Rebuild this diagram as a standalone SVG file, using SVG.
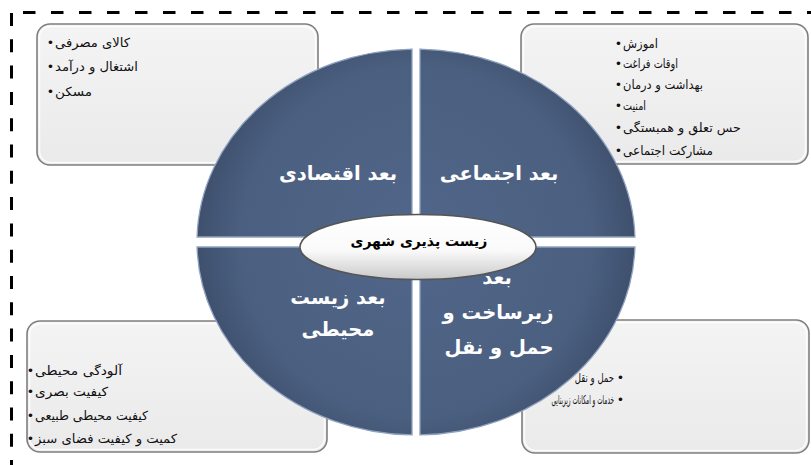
<svg xmlns="http://www.w3.org/2000/svg" width="811" height="465" viewBox="0 0 811 465">
<defs>
<linearGradient id="boxFill" x1="0" y1="0" x2="0" y2="1">
<stop offset="0" stop-color="#f5f4f5"/>
<stop offset="1" stop-color="#ebeaeb"/>
</linearGradient>
<radialGradient id="quadFill" cx="416" cy="242" r="219" gradientUnits="userSpaceOnUse">
<stop offset="0" stop-color="#52668a"/>
<stop offset="0.8" stop-color="#4b5f80"/>
<stop offset="1" stop-color="#3e506d"/>
</radialGradient>
<linearGradient id="ellFill" x1="0" y1="0" x2="0" y2="1">
<stop offset="0" stop-color="#ffffff"/>
<stop offset="0.55" stop-color="#fafafa"/>
<stop offset="1" stop-color="#c9c9c9"/>
</linearGradient>
</defs>
<style>
.frame{fill:none;stroke:#000;stroke-width:3}
.box{fill:url(#boxFill);stroke:#7f7f7f;stroke-width:1.6}
.boxin{fill:none;stroke:#ffffff;stroke-width:1.5;opacity:0.8}
.quad{fill:url(#quadFill);stroke:#8ea2bf;stroke-width:1.3}
.lbl{font-family:"DejaVu Sans",sans-serif;font-weight:bold;font-size:19.5px;fill:#ffffff;text-anchor:middle}
.item{font-family:"DejaVu Sans",sans-serif;font-size:12.5px;fill:#111111}
.bul{font-family:"DejaVu Sans",sans-serif;font-size:12.5px;fill:#111111;text-anchor:middle}
.center{font-family:"DejaVu Sans",sans-serif;font-weight:bold;font-size:14px;fill:#000000;text-anchor:middle}
</style>
<rect width="811" height="465" fill="#ffffff"/>
<g id="frame">
<line class="frame" x1="23" y1="12.5" x2="811" y2="12.5" stroke-dasharray="12.5 15.5"/>
<line class="frame" x1="11.5" y1="13" x2="11.5" y2="465" stroke-dasharray="13 13.3"/>
</g>
<g id="box-economic">
<rect class="box" x="37" y="24" width="281" height="141" rx="13"/>
<rect class="boxin" x="39.5" y="26.5" width="276" height="136" rx="11"/>
<text class="bul" x="50.5" y="47">•</text>
<text class="bul" x="50.5" y="71">•</text>
<text class="bul" x="50.5" y="96">•</text>
<text class="item" x="55" y="47" textLength="75" lengthAdjust="spacingAndGlyphs">کالای مصرفی</text>
<text class="item" x="55" y="71" textLength="83" lengthAdjust="spacingAndGlyphs">اشتغال و درآمد</text>
<text class="item" x="55" y="96" textLength="37" lengthAdjust="spacingAndGlyphs">مسکن</text>
</g>
<g id="box-social">
<rect class="box" x="521" y="24" width="287" height="140" rx="13"/>
<rect class="boxin" x="523.5" y="26.5" width="282" height="135" rx="11"/>
<text class="bul" x="618.5" y="48">•</text>
<text class="bul" x="618.5" y="68">•</text>
<text class="bul" x="618.5" y="89">•</text>
<text class="bul" x="618.5" y="110">•</text>
<text class="bul" x="618.5" y="132">•</text>
<text class="bul" x="618.5" y="155">•</text>
<text class="item" x="623" y="48" textLength="35" lengthAdjust="spacingAndGlyphs">اموزش</text>
<text class="item" x="623" y="68" textLength="55" lengthAdjust="spacingAndGlyphs">اوقات فراغت</text>
<text class="item" x="623" y="89" textLength="80" lengthAdjust="spacingAndGlyphs">بهداشت و درمان</text>
<text class="item" x="623" y="110" textLength="23" lengthAdjust="spacingAndGlyphs">امنیت</text>
<text class="item" x="623" y="132" textLength="118" lengthAdjust="spacingAndGlyphs">حس تعلق و همبستگی</text>
<text class="item" x="623" y="155" textLength="90" lengthAdjust="spacingAndGlyphs">مشارکت اجتماعی</text>
</g>
<g id="box-environment">
<rect class="box" x="27" y="321" width="300" height="131" rx="13"/>
<rect class="boxin" x="29.5" y="323.5" width="295" height="126" rx="11"/>
<text class="bul" x="30.5" y="375">•</text>
<text class="bul" x="30.5" y="396">•</text>
<text class="bul" x="30.5" y="420">•</text>
<text class="bul" x="30.5" y="443">•</text>
<text class="item" x="35" y="375" textLength="87" lengthAdjust="spacingAndGlyphs">آلودگی محیطی</text>
<text class="item" x="35" y="396" textLength="73" lengthAdjust="spacingAndGlyphs">کیفیت بصری</text>
<text class="item" x="35" y="420" textLength="113" lengthAdjust="spacingAndGlyphs">کیفیت محیطی طبیعی</text>
<text class="item" x="35" y="443" textLength="142" lengthAdjust="spacingAndGlyphs">کمیت و کیفیت فضای سبز</text>
</g>
<g id="box-infrastructure">
<rect class="box" x="522" y="320" width="287" height="133" rx="13"/>
<rect class="boxin" x="524.5" y="322.5" width="282" height="128" rx="11"/>
<text class="bul" x="620.5" y="382">•</text>
<text class="bul" x="620.5" y="404">•</text>
<text class="item" text-anchor="end" transform="translate(614,382) scale(0.68,1)">حمل و نقل</text>
<text class="item" text-anchor="end" transform="translate(614,404) scale(0.46,1)">خدمات و امکانات زیربنایی</text>
</g>
<g id="quad-economic">
<path class="quad" d="M412,237 L412,49.03 A219,193 0 0 0 197.07,237 Z"/>
<text class="lbl" x="338" y="180">بعد اقتصادی</text>
</g>
<g id="quad-social">
<path class="quad" d="M420,237 L420,49.03 A219,193 0 0 1 634.93,237 Z"/>
<text class="lbl" x="499" y="180">بعد اجتماعی</text>
</g>
<g id="quad-environment">
<path class="quad" d="M412,247 L412,434.97 A219,193 0 0 1 197.07,247 Z"/>
<text class="lbl" x="338" y="304">بعد زیست</text>
<text class="lbl" x="338" y="336">محیطی</text>
</g>
<g id="quad-infrastructure">
<path class="quad" d="M420,247 L420,434.97 A219,193 0 0 0 634.93,247 Z"/>
<text class="lbl" x="497" y="284">بعد</text>
<text class="lbl" x="498" y="319">زیرساخت و</text>
<text class="lbl" x="499" y="354">حمل و نقل</text>
</g>
<g id="connectors"/>
<g id="center-node">
<ellipse cx="418" cy="247" rx="118" ry="32.5" fill="url(#ellFill)" stroke="#555555" stroke-width="1.5"/>
<text class="center" x="419" y="246">زیست پذیری شهری</text>
</g>
</svg>
